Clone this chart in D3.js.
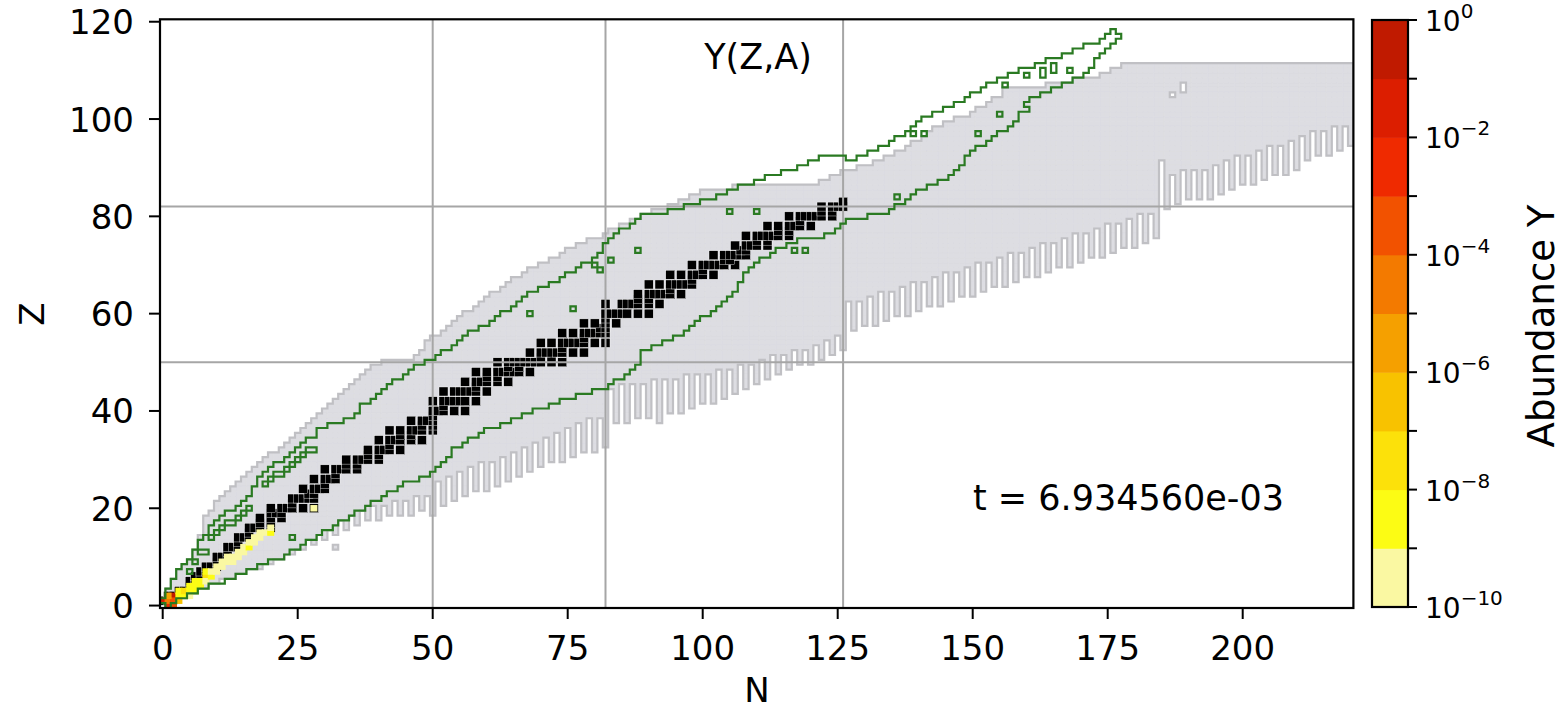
<!DOCTYPE html>
<html><head><meta charset="utf-8">
<script src="https://cdn.jsdelivr.net/npm/d3@7"></script>
<style>body{margin:0;background:#fff;} svg{display:block;font-family:"DejaVu Sans",sans-serif;}</style>
</head><body><svg id="c" width="1563" height="711"></svg>
<script>
// ---------------- DATA ----------------
// nuclear network extent, per neutron number N = 0..220 (lowest / highest Z)
const netZmin = [1,0,1,2,2,3,3,4,4,5,5,6,6,6,7,7,8,8,8,9,9,10,10,11,11,12,12,14,13,15,14,16,15,18,16,19,17,20,18,21,18,21,19,22,19,22,19,23,20,23,19,
26,21,27,22,28,23,29,24,30,24,30,25,31,26,32,27,33,28,34,29,35,30,36,30,37,31,38,32,39,32,39,33,
45,38,46,38,46,39,46,39,47,39,47,40,47,40,48,41,48,42,48,42,49,43,49,44,50,45,50,46,51,47,52,48,52,49,53,50,53,50,54,51,55,52,56,53,
63,57,63,58,64,58,65,59,65,60,66,60,67,61,67,62,68,62,69,63,69,64,70,64,71,65,71,66,72,66,73,67,73,68,74,68,75,69,75,70,76,70,77,71,77,72,78,72,79,73,79,74,80,74,81,75,81,76,
92,82,89,83,90,84,90,84,90,84,91,85,92,86,93,87,93,87,94,88,95,89,95,89,96,90,97,92,98,93,98,93,99,94,99,95];
const netZmax = [1,3,5,7,8,9,11,14,18,19,21,22,23,24,25,26,27,28,29,30,31,31,32,33,34,35,36,37,38,39,40,41,42,43,44,45,46,47,48,49,49,50,50,50,50,50,50,51,52,54,55,
55,56,57,58,59,60,60,61,62,63,64,64,65,66,67,67,68,69,69,70,70,71,71,72,73,73,74,74,75,75,75,76,
77,77,78,78,79,79,80,80,81,81,81,82,82,83,83,84,84,85,85,85,85,85,85,86,86,86,86,86,86,86,86,86,86,86,86,86,86,86,86,87,87,88,88,89,89,
89,90,90,90,91,91,92,92,93,93,94,95,95,96,97,98,98,99,99,100,100,100,101,102,102,103,104,104,106,106,106,106,106,106,106,106,107,107,107,107,107,108,108,108,108,108,109,109,110,110,111,
111,111,111,111,111,111,111,111,111,111,111,111,111,111,111,111,111,111,111,111,111,111,111,111,111,111,111,111,111,111,111,111,111,111,111,111,111,111,111,111,111,111,111];
const netExtraCells = [[32,12],[92,38]];
const netHoleCells = [[187,105],[189,106],[189,107]];

// abundance-threshold contour region, per N = 0..177
const greenZlo = [1,0,1,2,2,3,3,4,4,5,5,6,6,6,7,7,8,8,9,9,10,10,10,11,12,12,13,14,14,15,16,16,17,18,18,19,20,20,21,22,22,23,24,24,25,26,26,26,27,27,28,
29,30,31,33,33,34,35,35,36,37,37,37,38,38,39,39,40,40,41,41,41,42,42,43,43,43,44,44,44,45,45,45,
46,47,47,48,49,50,53,53,54,54,55,55,56,56,57,58,59,60,60,61,62,63,64,65,67,69,70,71,72,72,73,74,74,75,75,76,76,76,76,76,77,77,78,79,
80,80,80,80,81,81,81,81,82,83,83,84,85,86,86,87,87,88,88,89,90,91,93,94,95,95,96,97,98,98,99,100,102,104,105,105,106,106,107,107,108,108,109,109,110,111,113,114,115,116,117];
const greenZhi = [1,3,5,7,8,9,11,13,14,16,17,18,19,19,20,21,22,24,26,27,28,29,29,30,31,32,33,34,34,36,36,37,37,37,38,38,39,41,41,42,43,44,45,46,46,47,48,49,49,50,50,
51,52,52,53,54,55,56,56,57,57,58,59,60,60,61,62,63,64,64,65,65,66,66,67,68,68,69,70,70,71,72,74,
75,76,77,77,78,79,80,80,80,80,80,81,81,81,82,82,82,83,83,83,84,84,85,85,86,86,86,87,87,88,88,88,89,89,89,90,90,91,91,92,92,92,92,92,
91,91,92,92,93,93,94,94,95,96,96,97,98,99,100,100,101,101,102,102,103,103,104,105,105,106,107,107,108,108,109,109,110,110,110,111,111,112,112,112,113,113,114,114,115,115,115,116,117,118,117];
// single cells toggled in the contour (holes inside / islands outside)
const greenToggle = [[8,11],[11,5],[24,14],[68,60],[76,61],[80,70],[81,69],[83,71],[88,73],[105,81],[110,81],[117,73],[119,73],[136,84],[139,97],[141,97],[151,97],[155,101],[156,107],[160,109],[163,109],[163,110],[165,110],[165,111],[168,110],[160,102]];
// narrow channel of low-abundance cells just inside the proton-rich edge
const greenChannel = [[5,7],[6,9],[7,11],[9,14],[10,15],[11,16],[12,17],[13,17],[14,18],[15,19],[16,20],[19,25],[20,26],[21,27],[22,27],[23,28],[24,29],[25,30],[26,31],[27,32],[28,32]];

// stable nuclides: stableN[Z] = list of N
const stableN = [[],[0,1],[1,2],[3,4],[5],[5,6],[6,7],[7,8],[8,9,10],[10],[10,11,12],[12],[12,13,14],[14],[14,15,16],[16],
[16,17,18,20],[18,20],[18,20,22],[20,21,22],[20,22,23,24,26,28],[24],[24,25,26,27,28],[27,28],[26,28,29,30],[30],[28,30,31,32],[32],
[30,32,33,34,36],[34,36],[34,36,37,38,40],[38,40],[38,40,41,42,44],[42],[40,42,43,44,46,48],[44,46],[42,44,46,47,48,50],[48,50],
[46,48,49,50],[50],[50,51,52,54,56],[52],[50,52,53,54,55,56,58],[],[52,54,55,56,57,58,60],[58],[56,58,59,60,62,64],[60,62],
[58,60,62,63,64,65,66,68],[64,66],[62,64,65,66,67,68,69,70,72,74],[70,72],[68,70,71,72,73,74,76,78],[74],[70,72,74,75,76,77,78,80,82],
[78],[74,76,78,79,80,81,82],[81,82],[78,80,82,84],[82],[82,83,84,85,86,88,90],[],[82,85,86,87,88,90,92],[88,90],[88,90,91,92,93,94,96],
[94],[90,92,94,95,96,97,98],[98],[94,96,98,99,100,102],[100],[98,100,101,102,103,104,106],[104,105],[102,104,105,106,107,108],[107,108],
[106,108,109,110,112],[110,112],[108,110,111,112,113,114,116],[114,116],[112,114,116,117,118,120],[118],[116,118,119,120,121,122,124],
[122,124],[122,124,125,126],[126]];

// abundances above 1e-10 (N, Z, log10 Y)
const abundN =    [1,   0,   2,   1,   2,   1,   3,   4,   3,   4,   5,   5,   6,   6,   7,   7,   8,   8,   9,   8,   9,   10,  10,  11,  11,  12,  12,  13,  13,  14,  14,  15,  15,  16,  16,  17,  17,  18,  18,  19,  20,  20,  28,  5,   6,   2,   3];
const abundZ =    [0,   1,   2,   1,   1,   2,   2,   2,   3,   3,   3,   4,   4,   5,   5,   4,   6,   5,   6,   7,   7,   7,   8,   8,   9,   9,   10,  9,   10,  10,  11,  11,  12,  12,  13,  13,  14,  14,  15,  15,  15,  16,  20,  2,   3,   0,   1];
const abundLogY = [-2.3,-1.2,-0.4,-4.5,-3.5,-5.5,-8.5,-8.4,-8.5,-7.4,-8.4,-8.6,-8.3,-8.6,-8.4,-8.8,-7.6,-9.2,-8.8,-8.8,-9.4,-9.5,-9.5,-9.5,-9.6,-9.4,-9.6,-9.6,-9.5,-9.5,-9.5,-9.6,-9.5,-8.8,-9.5,-9.6,-9.5,-9.5,-9.6,-9.4,-8.7,-9.6,-9.6,-9.3,-8.9,-3.2,-6.5];

const magicN = [50,82,126];
const magicZ = [50,82];
const xTicks = [0,25,50,75,100,125,150,175,200];
const yTicks = [0,20,40,60,80,100,120];
const cbarExp = [-10,-9,-8,-7,-6,-5,-4,-3,-2,-1,0];
const cbarLabelExp = [-10,-8,-6,-4,-2,0];
const cbarColors = ["#faf8a2","#fcfc14","#fce10a","#f8c200","#f5a000","#f37a00","#f25200","#ef2a00","#dc1e00","#c01a00"];

// ---------------- DRAW ----------------
const svg = d3.select("#c");
const x = d3.scaleLinear().domain([-0.5, 220.5]).range([160, 1353.4]);
const y = d3.scaleLinear().domain([-0.5, 120.5]).range([608, 19.3]);
const key = (n,z) => n + "," + z;
const cw = x(1)-x(0), ch = y(0)-y(1);

svg.append("defs").append("clipPath").attr("id","clip")
  .append("rect").attr("x",160).attr("y",19.3).attr("width",1193.4).attr("height",588.7);
const plot = svg.append("g").attr("clip-path","url(#clip)");

function outline(set){
  let d = "";
  set.forEach(k => {
    const [n,z] = k.split(",").map(Number);
    const x0 = x(n-0.5), x1 = x(n+0.5), yb = y(z-0.5), yt = y(z+0.5);
    if(!set.has(key(n,z+1))) d += `M${x0},${yt}H${x1}`;
    if(!set.has(key(n,z-1))) d += `M${x0},${yb}H${x1}`;
    if(!set.has(key(n-1,z))) d += `M${x0},${yb}V${yt}`;
    if(!set.has(key(n+1,z))) d += `M${x1},${yb}V${yt}`;
  });
  return d;
}
function fillPath(set){
  let d = "";
  set.forEach(k => {
    const [n,z] = k.split(",").map(Number);
    d += `M${x(n-0.5)},${y(z+0.5)}H${x(n+0.5)}V${y(z-0.5)}H${x(n-0.5)}Z`;
  });
  return d;
}

// network region
const netSet = new Set();
netZmin.forEach((zmin,n) => { for(let z=zmin; z<=netZmax[n]; z++) netSet.add(key(n,z)); });
netExtraCells.forEach(([n,z]) => netSet.add(key(n,z)));
netHoleCells.forEach(([n,z]) => netSet.delete(key(n,z)));
plot.append("path").attr("d", fillPath(netSet)).attr("fill","#dddde2").attr("stroke","#dddde2").attr("stroke-width",0.6);
plot.append("path").attr("d", outline(netSet)).attr("fill","none").attr("stroke","#c0c0c4").attr("stroke-width",2.2).attr("stroke-linecap","square");

// stable nuclides (square markers slightly larger than a cell)
const stableCells = [];
stableN.forEach((ns,z) => ns.forEach(n => stableCells.push([n,z])));
const ms = 9;
plot.selectAll("rect.st").data(stableCells).join("rect").attr("class","st")
  .attr("x", d => x(d[0]) - ms/2).attr("y", d => y(d[1]) - ms/2)
  .attr("width", ms).attr("height", ms)
  .attr("fill","#000").attr("stroke","#fff").attr("stroke-width",0.4);

// abundances
const cbin = v => Math.max(0, Math.min(9, Math.floor(v) + 10));
plot.selectAll("rect.ab").data(abundN.map((n,i)=>[n,abundZ[i],abundLogY[i]])).join("rect").attr("class","ab")
  .attr("x", d => x(d[0]-0.5)-0.8).attr("y", d => y(d[1]+0.5)-0.8)
  .attr("width", cw+1.6).attr("height", ch+1.6)
  .attr("fill", d => cbarColors[cbin(d[2])]);

// magic-number grid lines
plot.selectAll("line.gv").data(magicN).join("line").attr("class","gv")
  .attr("x1", d=>x(d)).attr("x2", d=>x(d)).attr("y1",19).attr("y2",608)
  .attr("stroke","#a6a6a6").attr("stroke-width",2);
plot.selectAll("line.gh").data(magicZ).join("line").attr("class","gh")
  .attr("y1", d=>y(d)).attr("y2", d=>y(d)).attr("x1",160).attr("x2",1354)
  .attr("stroke","#a6a6a6").attr("stroke-width",2);

// contour
const gSet = new Set();
greenZlo.forEach((zlo,n) => { for(let z=zlo; z<=greenZhi[n]; z++) gSet.add(key(n,z)); });
greenToggle.forEach(([n,z]) => { const k=key(n,z); if(gSet.has(k)) gSet.delete(k); else gSet.add(k); });
greenChannel.forEach(([n,z]) => gSet.delete(key(n,z)));
plot.append("path").attr("d", outline(gSet)).attr("fill","none").attr("stroke","#2a7a22").attr("stroke-width",2.2).attr("stroke-linecap","square");

// axes
const fs = 34;
const ax = svg.append("g").attr("fill","#000");
ax.append("rect").attr("x",160).attr("y",19.3).attr("width",1193.4).attr("height",588.7)
  .attr("fill","none").attr("stroke","#000").attr("stroke-width",2.2);
xTicks.forEach(t => {
  ax.append("line").attr("x1",x(t)).attr("x2",x(t)).attr("y1",608).attr("y2",619).attr("stroke","#000").attr("stroke-width",2);
  ax.append("text").attr("x",x(t)).attr("y",660).attr("text-anchor","middle").attr("font-size",fs).text(t);
});
yTicks.forEach(t => {
  ax.append("line").attr("x1",149).attr("x2",160).attr("y1",y(t)).attr("y2",y(t)).attr("stroke","#000").attr("stroke-width",2);
  ax.append("text").attr("x",134).attr("y",y(t)+12.5).attr("text-anchor","end").attr("font-size",fs).text(t);
});
ax.append("text").attr("x",757).attr("y",702).attr("text-anchor","middle").attr("font-size",fs).text("N");
ax.append("text").attr("transform","translate(44,314) rotate(-90)").attr("text-anchor","middle").attr("font-size",fs).text("Z");
ax.append("text").attr("x",758).attr("y",69).attr("text-anchor","middle").attr("font-size",35).text("Y(Z,A)");
ax.append("text").attr("x",973).attr("y",510).attr("font-size",35).text("t = 6.934560e-03");

// colorbar
const cy = d3.scaleLinear().domain([-10,0]).range([607,20]);
const cb = svg.append("g");
cb.selectAll("rect.cs").data(cbarColors).join("rect").attr("class","cs")
  .attr("x",1372).attr("width",36)
  .attr("y",(d,i)=>cy(cbarExp[i+1])).attr("height",(d,i)=>cy(cbarExp[i])-cy(cbarExp[i+1])+0.5)
  .attr("fill",d=>d);
cb.append("rect").attr("x",1372).attr("y",20).attr("width",36).attr("height",587).attr("fill","none").attr("stroke","#000").attr("stroke-width",2.2);
cbarExp.forEach(e => cb.append("line").attr("x1",1408).attr("x2",1417).attr("y1",cy(e)).attr("y2",cy(e)).attr("stroke","#000").attr("stroke-width",2));
cbarLabelExp.forEach(e => {
  const t = cb.append("text").attr("x",1425).attr("y",cy(e)+11).attr("font-size",28);
  t.append("tspan").text("10");
  t.append("tspan").attr("dy",-13).attr("font-size",20).text(e===0 ? "0" : "\u2212" + Math.abs(e));
});
cb.append("text").attr("transform","translate(1554,326) rotate(-90)").attr("text-anchor","middle").attr("font-size",37).text("Abundance Y");
</script></body></html>
